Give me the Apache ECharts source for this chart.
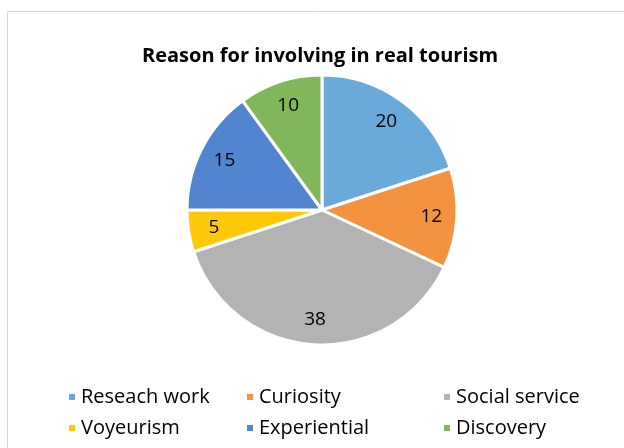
<!DOCTYPE html>
<html><head><meta charset="utf-8">
<script src="https://cdn.jsdelivr.net/npm/echarts@6/dist/echarts.min.js"></script>
<style>html,body{margin:0;padding:0;background:#fff}#c{width:624px;height:448px}</style>
</head><body><div id="c"></div>
<script>
const categories = ['Reseach work','Curiosity','Social service','Voyeurism','Experiential','Discovery'];
const values = [20, 12, 38, 5, 15, 10];
const colors = ['#6aaadb','#f3923f','#b3b3b3','#ffc90a','#5384cf','#80b75b'];
const titleText = 'Reason for involving in real tourism';

const data = categories.map((n,i)=>({name:n, value:values[i], itemStyle:{color:colors[i]}}));
const font = '"Open Sans", Lato, sans-serif';
const chart = echarts.init(document.getElementById('c'), null, {renderer:'canvas'});
function col(x, names){
  return {orient:'vertical', left:x, top:387, padding:0, itemWidth:8, itemHeight:8, icon:'rect', itemGap:11,
    data:names, textStyle:{fontFamily:font, fontSize:20, color:'#000', padding:0}, selectedMode:false};
}
chart.setOption({
  animation:false,
  graphic:[{type:'rect', shape:{x:7.5,y:11.5,width:640,height:460}, style:{fill:'#fff', stroke:'#d9d9d9', lineWidth:1}, z:-10}],
  title:{text:titleText, left:137, top:41, textStyle:{fontFamily:font, fontWeight:'bold', fontSize:20, color:'#000'}},
  legend:[col(67,[categories[0],categories[3]]), col(245,[categories[1],categories[4]]), col(442,[categories[2],categories[5]])],
  series:[
    {type:'pie', center:[322,210], radius:[0,135], startAngle:90, clockwise:true, data:data,
     itemStyle:{borderColor:'#fff', borderWidth:3}, label:{show:false}, labelLine:{show:false}, emphasis:{disabled:true}},
    {type:'pie', center:[322,210], radius:[78,135], startAngle:90, clockwise:true, silent:true,
     data:categories.map((n,i)=>({name:n, value:values[i]})),
     itemStyle:{color:'rgba(0,0,0,0)', borderWidth:0},
     label:{show:true, position:'inside', formatter:'{c}', fontFamily:font, fontSize:19, color:'#000'},
     labelLine:{show:false}, emphasis:{disabled:true}, z:3}
  ]
});
</script></body></html>
